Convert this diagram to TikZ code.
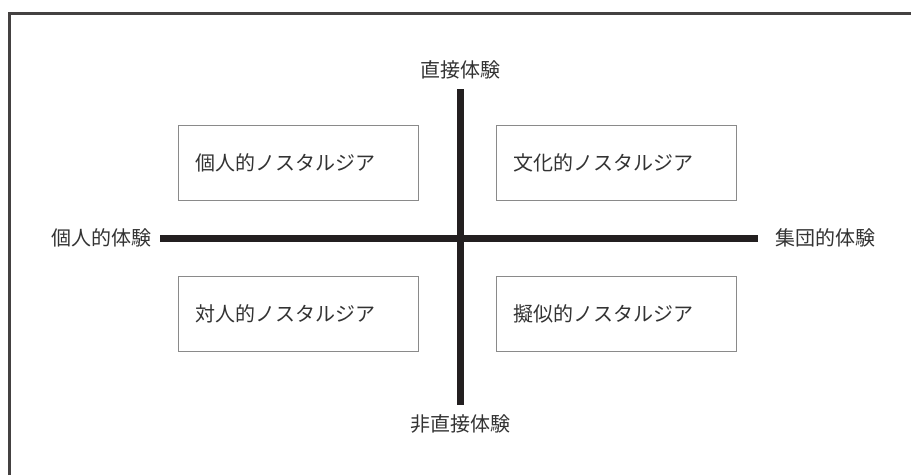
\documentclass[tikz,border=0pt]{standalone}
\usepackage{fontspec}
\newfontfamily\jp{Noto Sans CJK JP}
\definecolor{ink}{HTML}{231F20}
\definecolor{txt}{HTML}{333333}
\definecolor{boxgray}{HTML}{8A8A8A}
\begin{document}
\begin{tikzpicture}[x=1pt,y=-1pt,
  lbl/.style={text=txt,font=\jp\fontsize{20}{24}\selectfont,inner sep=0pt},
  quad/.style={draw=boxgray,line width=1.4pt,minimum width=240pt,minimum height=75pt,anchor=north west,text=txt,font=\jp\fontsize{20}{24}\selectfont,align=left,text width=206pt,inner xsep=17pt},
  axis/.style={draw=ink,line width=7pt}]
\useasboundingbox (0,0) rectangle (911,475);
\fill[white] (0,0) rectangle (911,475);
\draw[draw=ink!85,line width=3pt] (9.5,475) -- (9.5,13.5) -- (911,13.5);
\node[quad] (q1) at (178,125) {個人的ノスタルジア};
\node[quad] (q2) at (496,125) {文化的ノスタルジア};
\node[quad] (q3) at (178,276) {対人的ノスタルジア};
\node[quad] (q4) at (496,276) {擬似的ノスタルジア};
\coordinate (vt) at (460,89);
\coordinate (vb) at (460,405);
\coordinate (hl) at (160,238);
\coordinate (hr) at (758,238);
\draw[axis] (vt) -- (vb);
\draw[axis] (hl) -- (hr);
\node[lbl,above=10pt] (top) at (vt) {直接体験};
\node[lbl,below=9pt] (bot) at (vb) {非直接体験};
\node[lbl,left=8pt] (lft) at (hl) {個人的体験};
\node[lbl,right=17pt] (rgt) at (hr) {集団的体験};
\end{tikzpicture}
\end{document}
